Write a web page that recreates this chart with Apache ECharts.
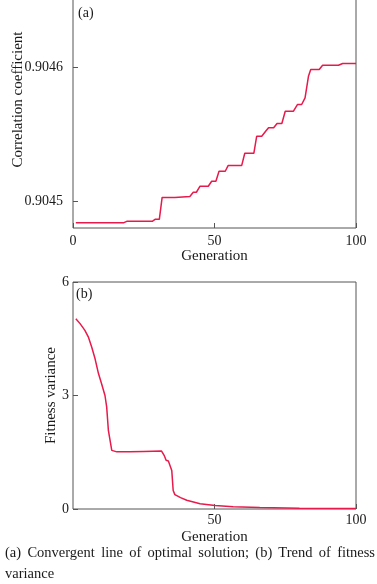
<!DOCTYPE html>
<html>
<head>
<meta charset="utf-8">
<script src="https://cdn.jsdelivr.net/npm/echarts@6/dist/echarts.min.js"></script>
<style>
  html, body { margin: 0; padding: 0; background: #fff; }
  #chart { position: absolute; left: 0; top: 0; width: 377px; height: 584px; }
  #caption {
    position: absolute; left: 5px; top: 542px; width: 370px;
    font-family: 'Liberation Serif', 'Times New Roman', serif;
    font-size: 14.5px; line-height: 21px; color: #1a1a1a;
    text-align: justify; text-align-last: left;
  }
</style>
</head>
<body>
<div id="chart"></div>
<div id="caption">(a) Convergent line of optimal solution; (b) Trend of fitness variance</div>
<script>
// (a) best correlation coefficient per generation
const genA = [1, 18, 19, 28, 29, 30.5, 31.5, 36, 36.5, 41.3, 42.5, 43.6, 44.9, 47.8, 49, 50.5,
  51.6, 53.8, 54.8, 59.6, 60.7, 63.9, 64.9, 66.7, 68, 69.1, 70.9, 72.1, 73.8, 75, 77.9,
  79.3, 80.8, 82, 83.2, 84, 87, 88.2, 93.8, 95.3, 100];
const corr = [0.904484, 0.904484, 0.904485, 0.904485, 0.9044865, 0.9044865, 0.9045028, 0.9045028,
  0.9045035, 0.9045035, 0.9045067, 0.9045067, 0.9045112, 0.9045112, 0.9045149, 0.9045149,
  0.9045224, 0.9045224, 0.9045266, 0.9045266, 0.9045358, 0.9045358, 0.9045485, 0.9045485,
  0.904552, 0.9045548, 0.9045548, 0.904558, 0.904558, 0.9045672, 0.9045672, 0.9045722,
  0.9045722, 0.9045772, 0.9045933, 0.9045983, 0.9045983, 0.9046015, 0.9046015, 0.9046028, 0.9046028];

// (b) fitness variance per generation
const genB = [1, 2.5, 4.2, 5.4, 6.6, 7.8, 9, 10.1, 11.3, 11.9, 12.5, 13.7, 15.5, 20, 25, 31.3,
  32.2, 32.9, 33.7, 34.9, 35.4, 36, 38, 40.2, 44.9, 50.2, 56.6, 66, 80, 100];
const variance = [5.03, 4.90, 4.72, 4.55, 4.28, 3.97, 3.58, 3.31, 3.0, 2.70, 2.08, 1.55, 1.51, 1.51,
  1.52, 1.53, 1.42, 1.29, 1.27, 1.02, 0.49, 0.38, 0.30, 0.23, 0.14, 0.09, 0.06, 0.04, 0.02, 0.01];

const corrTicks = [0.9045, 0.9046];
const xTicks = [0, 50, 100];

const serif = "'Liberation Serif', 'Times New Roman', serif";
const lineColor = '#e8194b';
const axisColor = '#555';
const textColor = '#1a1a1a';

const chart = echarts.init(document.getElementById('chart'), null, { renderer: 'canvas' });

const xAxisBase = {
  type: 'value', min: 0, max: 100, interval: 50,
  axisLine: { show: false },
  axisTick: { inside: true, length: 5, lineStyle: { color: axisColor } },
  splitLine: { show: false },
  name: 'Generation', nameLocation: 'middle', nameGap: 21, nameMoveOverlap: false,
  nameTextStyle: { fontFamily: serif, fontSize: 15, color: textColor },
};

chart.setOption({
  animation: false,
  textStyle: { fontFamily: serif },
  grid: [
    { left: 73, width: 283, top: -1, height: 229, show: true, borderColor: axisColor, borderWidth: 1,
      outerBoundsMode: 'none', containLabel: false },
    { left: 73, width: 283, top: 282, height: 227, show: true, borderColor: axisColor, borderWidth: 1,
      outerBoundsMode: 'none', containLabel: false },
  ],
  xAxis: [
    Object.assign({}, xAxisBase, {
      gridIndex: 0,
      axisLabel: { margin: 6, fontFamily: serif, fontSize: 14, color: textColor,
        customValues: xTicks },
    }),
    Object.assign({}, xAxisBase, {
      gridIndex: 1,
      axisLabel: { margin: 4, fontFamily: serif, fontSize: 14, color: textColor,
        showMinLabel: false },
    }),
  ],
  yAxis: [
    {
      type: 'value', gridIndex: 0, min: 0.90448, max: 0.904651,
      axisLine: { show: false },
      axisTick: { inside: true, length: 5, lineStyle: { color: axisColor }, customValues: corrTicks },
      axisLabel: { margin: 10, fontFamily: serif, fontSize: 14, color: textColor,
        customValues: corrTicks, formatter: v => v.toFixed(4) },
      splitLine: { show: false },
      name: 'Correlation coefficient', nameLocation: 'middle', nameGap: 47, nameMoveOverlap: false,
      nameTextStyle: { fontFamily: serif, fontSize: 15, color: textColor, padding: [0, 0, 0, 28] },
    },
    {
      type: 'value', gridIndex: 1, min: 0, max: 6, interval: 3,
      axisLine: { show: false },
      axisTick: { inside: true, length: 5, lineStyle: { color: axisColor } },
      axisLabel: { margin: 4, fontFamily: serif, fontSize: 14, color: textColor },
      splitLine: { show: false },
      name: 'Fitness variance', nameLocation: 'middle', nameGap: 14, nameMoveOverlap: false,
      nameTextStyle: { fontFamily: serif, fontSize: 15, color: textColor },
    },
  ],
  graphic: [
    { type: 'text', left: 78, top: 6, style: { text: '(a)', font: '14px ' + serif, fill: textColor } },
    { type: 'text', left: 76, top: 287, style: { text: '(b)', font: '14px ' + serif, fill: textColor } },
  ],
  series: [
    {
      type: 'line', xAxisIndex: 0, yAxisIndex: 0, showSymbol: false,
      lineStyle: { color: lineColor, width: 1.5 },
      data: genA.map((g, i) => [g, corr[i]]),
    },
    {
      type: 'line', xAxisIndex: 1, yAxisIndex: 1, showSymbol: false,
      lineStyle: { color: lineColor, width: 1.5 },
      data: genB.map((g, i) => [g, variance[i]]),
    },
  ],
});
</script>
</body>
</html>
